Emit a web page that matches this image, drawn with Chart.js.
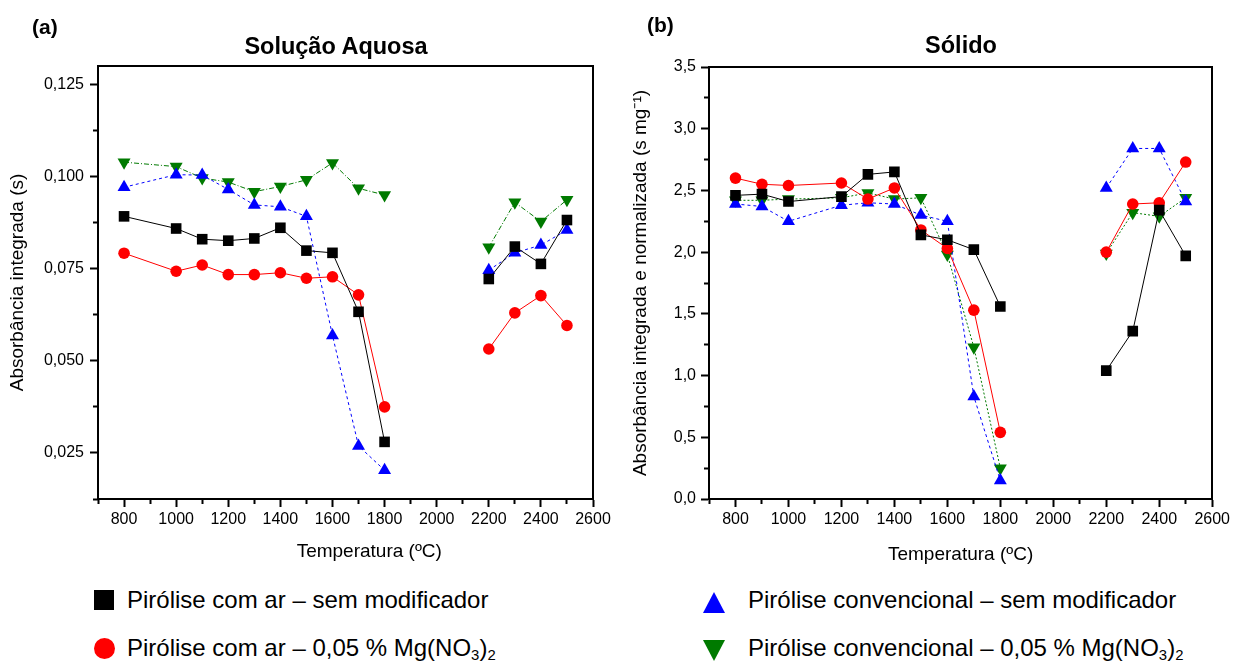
<!DOCTYPE html>
<html>
<head>
<meta charset="utf-8">
<script src="https://cdn.jsdelivr.net/npm/chart.js@4.4.1/dist/chart.umd.min.js"></script>
<style>
  body { margin: 0; background: #fff; font-family: "Liberation Sans", Arial, sans-serif; }
  #wrap { position: relative; width: 1233px; height: 662px; overflow: hidden; background: #fff; }
  canvas { position: absolute; top: 0; }
  .tag { position: absolute; font-weight: bold; font-size: 21px; line-height: 25px; color: #000; }
  .ttl { position: absolute; width: 300px; text-align: center; font-weight: bold; font-size: 23.5px; line-height: 28px; color: #000; }
  .leg { position: absolute; font-size: 24px; line-height: 28px; color: #000; white-space: nowrap; }
  .leg sub { font-size: 0.62em; line-height: 0; vertical-align: -0.25em; }
  .mk { position: absolute; }
</style>
</head>
<body>
<div id="wrap">
  <canvas id="chartA" width="616" height="570" style="left:0"></canvas>
  <canvas id="chartB" width="617" height="570" style="left:616px"></canvas>

  <div class="tag" style="left:32px; top:14px">(a)</div>
  <div class="tag" style="left:647px; top:12px">(b)</div>
  <div class="ttl" style="left:186px; top:32px">Solução Aquosa</div>
  <div class="ttl" style="left:811px; top:31px">Sólido</div>

  <!-- legenda -->
  <div class="mk" style="left:94px; top:590px; width:20px; height:20px; background:#000"></div>
  <div class="leg" style="left:127px; top:586px">Pirólise com ar – sem modificador</div>
  <div class="mk" style="left:94px; top:638px; width:21px; height:21px; border-radius:50%; background:#ff0000"></div>
  <div class="leg" style="left:127px; top:634px">Pirólise com ar – 0,05 % Mg(NO<sub>3</sub>)<sub>2</sub></div>

  <div class="mk" style="left:703px; top:592px; width:0; height:0; border-left:11px solid transparent; border-right:11px solid transparent; border-bottom:21px solid #0000ff"></div>
  <div class="leg" style="left:748px; top:586px">Pirólise convencional – sem modificador</div>
  <div class="mk" style="left:703px; top:640px; width:0; height:0; border-left:11px solid transparent; border-right:11px solid transparent; border-top:21px solid #007a00"></div>
  <div class="leg" style="left:748px; top:634px">Pirólise convencional – 0,05 % Mg(NO<sub>3</sub>)<sub>2</sub></div>
</div>

<script>
// temperaturas (ºC) - 2000 fica vazio para cortar a linha
const tempA = [800, 1000, 1100, 1200, 1300, 1400, 1500, 1600, 1700, 1800, 2000, 2200, 2300, 2400, 2500];
const tempB = [800, 900, 1000, 1200, 1300, 1400, 1500, 1600, 1700, 1800, 2000, 2200, 2300, 2400, 2500];

// (a) Solução Aquosa
const arSemA = [0.0892, 0.0859, 0.0830, 0.0826, 0.0832, 0.0861, 0.0799, 0.0793, 0.0633, 0.0280, null, 0.0722, 0.0810, 0.0763, 0.0882];
const arMgA  = [0.0792, 0.0743, 0.0760, 0.0734, 0.0734, 0.0739, 0.0724, 0.0728, 0.0679, 0.0375, null, 0.0532, 0.0630, 0.0677, 0.0596];
const convSemA = [0.0971, 0.1005, 0.1004, 0.0965, 0.0923, 0.0918, 0.0892, 0.0569, 0.0269, 0.0203, null, 0.0746, 0.0793, 0.0814, 0.0855];
const convMgA  = [0.1039, 0.1027, 0.0996, 0.0985, 0.0959, 0.0973, 0.0991, 0.1037, 0.0968, 0.0950, null, 0.0808, 0.0930, 0.0878, 0.0937];

// (b) Sólido
const arSemB = [2.46, 2.47, 2.41, 2.45, 2.63, 2.65, 2.14, 2.10, 2.02, 1.56, null, 1.04, 1.36, 2.34, 1.97];
const arMgB  = [2.60, 2.55, 2.54, 2.56, 2.43, 2.52, 2.18, 2.03, 1.53, 0.54, null, 2.00, 2.39, 2.40, 2.73];
const convSemB = [2.39, 2.37, 2.25, 2.38, 2.40, 2.39, 2.30, 2.25, 0.83, 0.15, null, 2.52, 2.84, 2.84, 2.41];
const convMgB  = [2.42, 2.42, 2.43, 2.44, 2.48, 2.43, 2.44, 1.98, 1.23, 0.25, null, 1.99, 2.32, 2.29, 2.44];

// ticks
const xTicks = [800, 1000, 1200, 1400, 1600, 1800, 2000, 2200, 2400, 2600];
const xMinor = [700, 900, 1100, 1300, 1500, 1700, 1900, 2100, 2300, 2500];
const yTicksA = [0.025, 0.050, 0.075, 0.100, 0.125];
const yMinorA = [0.0125, 0.0375, 0.0625, 0.0875, 0.1125];
const yTicksB = [0, 0.5, 1.0, 1.5, 2.0, 2.5, 3.0, 3.5];
const yMinorB = [0.25, 0.75, 1.25, 1.75, 2.25, 2.75, 3.25];

const FONT = '"Liberation Sans", Arial, sans-serif';
const X_MIN = 700, X_MAX = 2600;

function pts(temps, vals) {
  return temps.map((t, i) => ({ x: t, y: vals[i] }));
}

function serie(label, temps, vals, color, style, radius, rot, dash) {
  return {
    label: label,
    data: pts(temps, vals),
    borderColor: color,
    backgroundColor: color,
    borderWidth: 1,
    borderDash: dash,
    pointStyle: style,
    pointRadius: radius,
    pointRotation: rot,
    pointBorderWidth: 0,
    pointBackgroundColor: color,
    spanGaps: false,
    tension: 0
  };
}

// eixo sem texto: só ticks menores ou só a linha da moldura
function bareAxis(position, min, max, tickVals, tickLen, border) {
  const horiz = position === 'top' || position === 'bottom';
  return {
    type: 'linear',
    position: position,
    min: min,
    max: max,
    weight: 0,
    afterBuildTicks: s => { s.ticks = tickVals.map(v => ({ value: v })); },
    afterFit: s => { if (horiz) s.height = 0; else s.width = 0; },
    ticks: { display: false },
    grid: {
      display: tickVals.length > 0,
      drawOnChartArea: false,
      drawTicks: tickVals.length > 0,
      tickLength: tickLen,
      tickWidth: 2,
      tickColor: '#000'
    },
    border: { display: border, color: '#000', width: 2 }
  };
}

function makeChart(id, sets, o) {
  const ctx = document.getElementById(id).getContext('2d');
  return new Chart(ctx, {
    type: 'line',
    data: { datasets: sets },
    options: {
      responsive: false,
      animation: false,
      layout: { padding: { left: 0, right: o.padRight, top: o.padTop, bottom: 0 } },
      plugins: {
        legend: { display: false },
        tooltip: { enabled: false },
        title: { display: false }
      },
      scales: {
        x: {
          type: 'linear',
          position: 'bottom',
          weight: 1,
          min: X_MIN,
          max: X_MAX,
          afterBuildTicks: s => { s.ticks = xTicks.map(v => ({ value: v })); },
          afterFit: s => { s.height = 71; },
          ticks: {
            color: '#000',
            font: { family: FONT, size: 16 },
            padding: 3,
            autoSkip: false,
            maxRotation: 0,
            callback: v => String(v)
          },
          grid: { drawOnChartArea: false, drawTicks: true, tickLength: 8, tickWidth: 2, tickColor: '#000' },
          border: { display: true, color: '#000', width: 2 },
          title: {
            display: true,
            text: o.xTitle,
            color: '#000',
            font: { family: FONT, size: 19 },
            padding: { top: 0, bottom: o.xTitlePad }
          }
        },
        y: {
          type: 'linear',
          position: 'left',
          weight: 1,
          min: o.min,
          max: o.max,
          afterBuildTicks: s => { s.ticks = o.ticks.map(v => ({ value: v })); },
          afterFit: s => { s.width = o.width; },
          ticks: {
            color: '#000',
            font: { family: FONT, size: 16 },
            padding: o.tickPad,
            autoSkip: false,
            callback: v => v.toFixed(o.dec).replace('.', ',')
          },
          grid: { drawOnChartArea: false, drawTicks: true, tickLength: 8, tickWidth: 2, tickColor: '#000' },
          border: { display: true, color: '#000', width: 2 },
          title: {
            display: true,
            text: o.title,
            color: '#000',
            font: { family: FONT, size: 19 },
            padding: { top: o.titlePad, bottom: 0 }
          }
        },
        xMinor: bareAxis('bottom', X_MIN, X_MAX, xMinor, 5, false),
        yMinor: bareAxis('left', o.min, o.max, o.minor, 5, false),
        xTop: bareAxis('top', X_MIN, X_MAX, [], 0, true),
        yRight: bareAxis('right', o.min, o.max, [], 0, true)
      }
    }
  });
}

makeChart('chartA', [
  serie('Pirólise com ar – sem modificador', tempA, arSemA, '#000000', 'rect', 7.5, 0, []),
  serie('Pirólise com ar – 0,05 % Mg(NO3)2', tempA, arMgA, '#ff0000', 'circle', 5.8, 0, []),
  serie('Pirólise convencional – sem modificador', tempA, convSemA, '#0000ff', 'triangle', 7.5, 0, [3, 3]),
  serie('Pirólise convencional – 0,05 % Mg(NO3)2', tempA, convMgA, '#007a00', 'triangle', 7.5, 180, [5, 2, 1, 2])
], {
  min: 0.0125, max: 0.130, ticks: yTicksA, minor: yMinorA, dec: 3,
  width: 98, tickPad: 6, padRight: 23, padTop: 66,
  title: 'Absorbância integrada (s)', titlePad: 6.6,
  xTitle: '         Temperatura (ºC)', xTitlePad: 7
});

makeChart('chartB', [
  serie('Pirólise com ar – sem modificador', tempB, arSemB, '#000000', 'rect', 7.5, 0, []),
  serie('Pirólise com ar – 0,05 % Mg(NO3)2', tempB, arMgB, '#ff0000', 'circle', 5.8, 0, []),
  serie('Pirólise convencional – sem modificador', tempB, convSemB, '#0000ff', 'triangle', 7.5, 0, [3, 3]),
  serie('Pirólise convencional – 0,05 % Mg(NO3)2', tempB, convMgB, '#007a00', 'triangle', 7.5, 180, [2, 2])
], {
  min: 0, max: 3.5, ticks: yTicksB, minor: yMinorB, dec: 1,
  width: 93, tickPad: 5, padRight: 19, padTop: 67,
  title: 'Absorbância integrada e normalizada (s mg⁻¹)', titlePad: 13.6,
  xTitle: 'Temperatura (ºC)', xTitlePad: 4
});
</script>
</body>
</html>
